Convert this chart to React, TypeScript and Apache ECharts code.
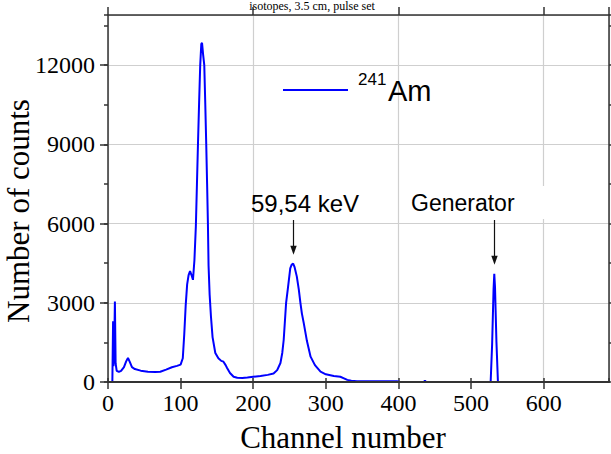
import { useEffect, useRef } from "react";
import * as echarts from "echarts";

// Pulse-height spectrum of 241Am (channel -> counts)
const channel = [
  6, 7, 7.5, 8.5, 9.5, 10.5, 12, 15, 18, 22, 25, 27.5, 30, 33, 37, 45, 55, 65, 72, 80, 88, 95, 100,
  103, 105, 107, 109, 111, 113, 115, 117, 119, 121, 122.5, 124, 125.5, 127, 128.5, 129.5, 131,
  132.6, 134, 135.3, 136.5, 137.6, 138.5, 140, 141.8, 144, 147.8, 152, 156, 159, 162, 164, 168,
  173, 178, 185, 192, 200, 210, 220, 228, 233, 237.5, 240, 242, 245.3, 248, 251, 253, 255, 257,
  260, 262.8, 265, 267, 269.6, 274, 279, 285, 292.7, 300, 311, 320, 325, 329.6, 335, 343, 360,
  398, 402, 435, 436.5, 438, 480, 527, 529, 531, 532, 533, 535, 537, 538,
];
const counts = [
  0, 2300, 600, 1200, 3050, 700, 420, 380, 420, 560, 780, 910, 760, 560, 490, 430, 390, 380, 390,
  470, 560, 610, 660, 900, 1800, 2900, 3700, 4050, 4200, 4050, 3870, 4600, 5900, 7500, 9100,
  10600, 12000, 12800, 12850, 12400, 12000, 10500, 9000, 7500, 6000, 4400, 3300, 2480, 1700,
  1100, 900, 800, 770, 640, 530, 340, 200, 160, 150, 170, 200, 230, 270, 320, 450, 720, 1100,
  1600, 3000, 3600, 4300, 4450, 4480, 4350, 4000, 3500, 3000, 2600, 2230, 1550, 960, 640, 390,
  290, 230, 200, 140, 80, 45, 30, 28, 25, 0, 0, 50, 0, 0, 0, 1400, 3500, 4100, 3600, 1500, 30, 0,
];

const xTickLabels = ["0", "100", "200", "300", "400", "500", "600"];
const X_MAX = 690;
const Y_MAX = 13900;

// Annotated peaks
const peakLabels = ["59,54 keV", "Generator"];
const peakChannels = [255, 532];
const peakCounts = [4480, 4100];

const SERIF = '"Liberation Serif", "Times New Roman", serif';
const SANS = '"Liberation Sans", Arial, sans-serif';
const FRAME = { color: "#333", width: 1.5 };
const GRID_COLOR = "#cfcfcf";

export default function App() {
  const ref = useRef<HTMLDivElement>(null);

  useEffect(() => {
    if (!ref.current) return;
    const chart = echarts.init(ref.current, undefined, { renderer: "svg" });

    const data = channel.map((c, i) => [c, counts[i]]);

    const baseX = { type: "value" as const, min: 0, max: X_MAX };
    const baseY = { type: "value" as const, min: 0, max: Y_MAX };

    chart.setOption({
      animation: false,
      backgroundColor: "#fff",
      grid: {
        left: 108,
        right: 2,
        top: 15,
        bottom: 72,
        containLabel: false,
        outerBoundsMode: "none",
      },
      xAxis: [
        {
          ...baseX,
          position: "bottom",
          z: 3,
          interval: 100,
          axisLine: { show: true, onZero: false, lineStyle: { color: "#333", width: 2.2 } },
          axisTick: { show: true, inside: false, length: 7, lineStyle: FRAME },
          axisLabel: {
            color: "#000",
            fontFamily: SERIF,
            fontSize: 24,
            margin: 9,
            showMaxLabel: false,
            formatter: (v: number) => xTickLabels[Math.round(v / 100)] ?? "",
          },
          splitLine: { show: false },
        },
        {
          ...baseX,
          position: "top",
          interval: 200,
          axisLine: { show: true, onZero: false, lineStyle: FRAME },
          axisTick: { show: true, inside: false, length: 8, lineStyle: FRAME },
          axisLabel: { show: false },
          splitLine: { show: true, lineStyle: { color: GRID_COLOR, width: 1.2 } },
        },
        {
          ...baseX,
          position: "top",
          interval: 100,
          axisLine: { show: false },
          axisTick: { show: true, inside: false, length: 4, lineStyle: FRAME },
          axisLabel: { show: false },
          splitLine: { show: false },
        },
      ],
      yAxis: [
        {
          ...baseY,
          position: "left",
          interval: 3000,
          axisLine: { show: true, onZero: false, lineStyle: FRAME },
          axisTick: { show: true, inside: false, length: 8, lineStyle: FRAME },
          axisLabel: {
            color: "#000",
            fontFamily: SERIF,
            fontSize: 24,
            margin: 13,
            showMaxLabel: false,
            formatter: (v: number) => String(v),
          },
          splitLine: { show: true, lineStyle: { color: GRID_COLOR, width: 1.2 } },
        },
        {
          ...baseY,
          position: "left",
          interval: 1500,
          axisLine: { show: false },
          axisTick: { show: true, inside: false, length: 4, lineStyle: FRAME },
          axisLabel: { show: false },
          splitLine: { show: false },
        },
        {
          ...baseY,
          position: "right",
          interval: 1500,
          axisLine: { show: true, onZero: false, lineStyle: FRAME },
          axisTick: { show: true, inside: false, length: 4, lineStyle: FRAME },
          axisLabel: { show: false },
          splitLine: { show: false },
        },
      ],
      series: [
        {
          name: "241Am",
          type: "line",
          xAxisIndex: 0,
          yAxisIndex: 0,
          data,
          symbol: "none",
          showSymbol: false,
          lineStyle: { color: "#0000ff", width: 2 },
          z: 2,
        },
      ],
    });

    // Arrows pointing at the annotated peaks
    const arrows: any[] = [];
    peakChannels.forEach((c, i) => {
      const [px, py] = chart.convertToPixel({ seriesIndex: 0 }, [c, peakCounts[i]]) as number[];
      const x = Math.round(px) + 0.5;
      const tip = py - 9;
      arrows.push(
        {
          type: "line",
          z: 5,
          shape: { x1: x, y1: 220, x2: x, y2: tip - 6 },
          style: { stroke: "#111", lineWidth: 1.2 },
        },
        {
          type: "polygon",
          z: 5,
          shape: { points: [[x - 3.2, tip - 9], [x + 3.2, tip - 9], [x, tip]] },
          style: { fill: "#111" },
        },
        {
          type: "text",
          z: 5,
          x: i === 0 ? 251 : 411,
          y: 203,
          style: {
            text: peakLabels[i],
            font: `${i === 0 ? 24 : 23}px ${SANS}`,
            fill: "#000",
            align: "left",
            verticalAlign: "middle",
          },
        }
      );
    });

    chart.setOption({
      graphic: [
        // white label box behind "Generator"
        {
          type: "rect",
          z: 1,
          shape: { x: 405, y: 186, width: 150, height: 33 },
          style: { fill: "#fff" },
        },
        ...arrows,
        // legend
        {
          type: "line",
          z: 5,
          shape: { x1: 283, y1: 90, x2: 348, y2: 90 },
          style: { stroke: "#0000ff", lineWidth: 2 },
        },
        {
          type: "text",
          z: 5,
          x: 358,
          y: 79,
          style: {
            text: "241",
            font: `17px ${SANS}`,
            fill: "#000",
            align: "left",
            verticalAlign: "middle",
          },
        },
        {
          type: "text",
          z: 5,
          x: 388,
          y: 91,
          style: {
            text: "Am",
            font: `29px ${SANS}`,
            fill: "#000",
            align: "left",
            verticalAlign: "middle",
          },
        },
        // axis titles
        {
          type: "text",
          z: 5,
          x: 18,
          y: 211,
          rotation: Math.PI / 2,
          style: {
            text: "Number of counts",
            font: `31px ${SERIF}`,
            fill: "#000",
            align: "center",
            verticalAlign: "middle",
          },
        },
        {
          type: "text",
          z: 5,
          x: 343,
          y: 437,
          style: {
            text: "Channel number",
            font: `31px ${SERIF}`,
            fill: "#000",
            align: "center",
            verticalAlign: "middle",
          },
        },
        // title line above the frame
        {
          type: "text",
          z: 5,
          x: 312,
          y: 0,
          style: {
            text: "isotopes, 3.5 cm, pulse set",
            font: `12px ${SERIF}`,
            fill: "#000",
            align: "center",
            verticalAlign: "top",
          },
        },
      ],
    });

    return () => chart.dispose();
  }, []);

  return (
    <div
      ref={ref}
      style={{ position: "fixed", left: 0, top: 0, width: 611, height: 454, background: "#fff" }}
    />
  );
}
